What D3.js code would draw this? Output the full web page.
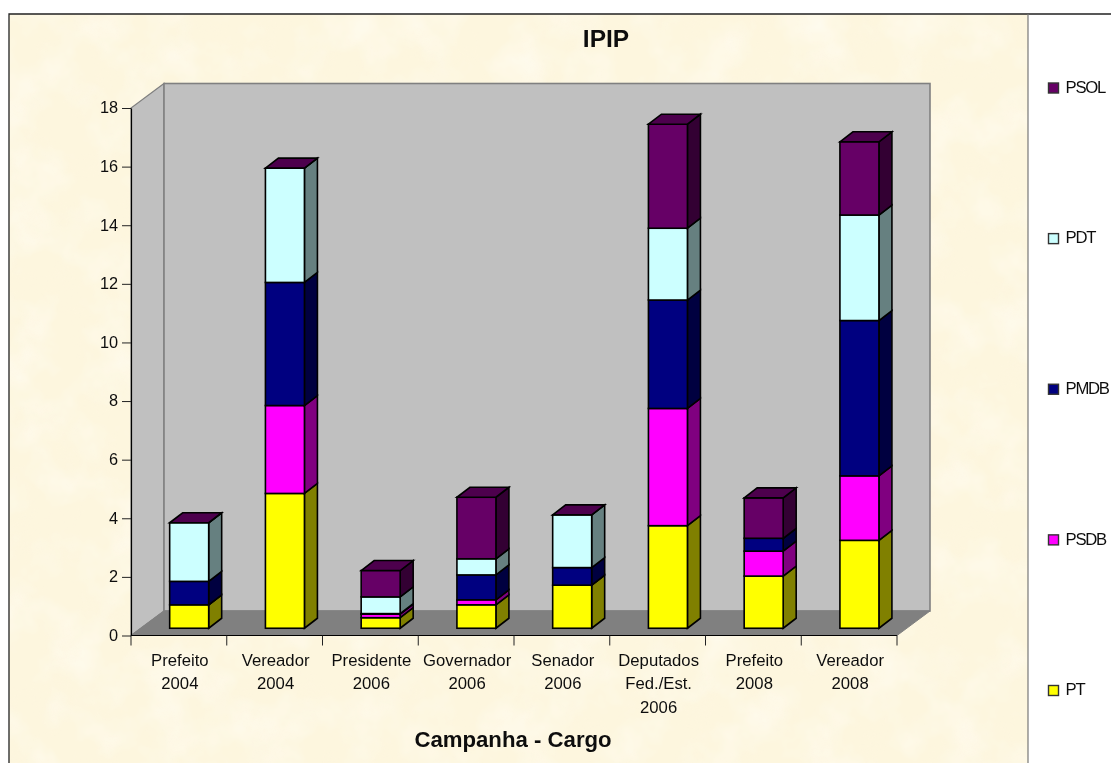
<!DOCTYPE html>
<html><head><meta charset="utf-8">
<script src="https://cdn.jsdelivr.net/npm/d3@7"></script>
<style>html,body{margin:0;padding:0;background:#fff}svg{display:block;font-family:"Liberation Sans",Arial,sans-serif;fill:#111}</style>
</head><body><div id="c"></div>
<script>
const categories = [["Prefeito","2004"],["Vereador","2004"],["Presidente","2006"],["Governador","2006"],["Senador","2006"],["Deputados","Fed./Est.","2006"],["Prefeito","2008"],["Vereador","2008"]];
const PT   = [0.8, 4.6, 0.36, 0.8, 1.47, 3.5, 1.78, 3.0];
const PSDB = [0, 3.0, 0.12, 0.17, 0, 4.0, 0.85, 2.2];
const PMDB = [0.8, 4.2, 0.02, 0.85, 0.6, 3.7, 0.44, 5.3];
const PDT  = [2.0, 3.9, 0.57, 0.55, 1.8, 2.45, 0, 3.6];
const PSOL = [0, 0, 0.9, 2.1, 0, 3.55, 1.38, 2.5];
const seriesNames = ["PT","PSDB","PMDB","PDT","PSOL"];
const seriesValues = [PT,PSDB,PMDB,PDT,PSOL];
const seriesColors = ["#ffff00","#ff00ff","#000080","#ccffff","#660066"];
const yTicks = [0,2,4,6,8,10,12,14,16,18];
const chartTitle = "IPIP", xTitle = "Campanha - Cargo";

const W=1111,H=763;
const svg=d3.select("#c").append("svg").attr("width",W).attr("height",H);
const defs=svg.append("defs");
const f=defs.append("filter").attr("id","paper").attr("x",0).attr("y",0).attr("width","100%").attr("height","100%");
f.append("feTurbulence").attr("type","fractalNoise").attr("baseFrequency","0.02").attr("numOctaves",4).attr("seed",7);
f.append("feColorMatrix").attr("type","matrix").attr("values","0 0 0 0 1  0 0 0 0 0.985  0 0 0 0 0.92  1.3 0 0 0 -0.55");
const f2=defs.append("filter").attr("id","spot").attr("x",0).attr("y",0).attr("width","100%").attr("height","100%");
f2.append("feTurbulence").attr("type","fractalNoise").attr("baseFrequency","0.025").attr("numOctaves",3).attr("seed",21);
f2.append("feColorMatrix").attr("type","matrix").attr("values","0 0 0 0 0.99  0 0 0 0 0.91  0 0 0 0 0.76  0 1.6 0 0 -0.7");
defs.append("filter").attr("id","soft").append("feGaussianBlur").attr("stdDeviation",0.35);

const px=9,py=14,pr=1028;
svg.append("rect").attr("x",px).attr("y",py).attr("width",pr-px).attr("height",H-py).attr("fill","#fdf6de");
svg.append("rect").attr("x",px).attr("y",py).attr("width",pr-px).attr("height",H-py).attr("filter","url(#paper)");
svg.append("rect").attr("x",px).attr("y",py).attr("width",pr-px).attr("height",H-py).attr("filter","url(#spot)").attr("opacity",.22);
svg.append("path").attr("d",`M${px},${H}V${py}H${W}`).attr("fill","none").attr("stroke","#222").attr("stroke-width",1.3);
svg.append("path").attr("d",`M${pr},${py}V${H}`).attr("fill","none").attr("stroke","#777").attr("stroke-width",1.2);

const y=d3.scaleLinear().domain([0,18]).range([635.5,108]);
const x=d3.scaleBand().domain(d3.range(categories.length)).range([131,897]);
const dx=33,dy=24.5;           // chart depth
const bw=39,bdx=13,bdy=10;     // bar width and depth
const ox=(dx-bdx)/2, oy=(dy-bdy)/2;
const [x0,x1]=x.range(),y0=y(0),y1=y(18);

const g=svg.append("g");
const wall="#c0c0c0",edge="#808080";
g.append("path").attr("d",`M${x0},${y0}L${x0+dx},${y0-dy}V${y1-dy}L${x0},${y1}Z`).attr("fill",wall).attr("stroke",edge).attr("stroke-width",1.2);
g.append("rect").attr("x",x0+dx).attr("y",y1-dy).attr("width",x1-x0).attr("height",y0-y1).attr("fill",wall).attr("stroke",edge).attr("stroke-width",1.6);
g.append("path").attr("d",`M${x0},${y0}L${x0+dx},${y0-dy}H${x1+dx}L${x1},${y0}Z`).attr("fill",edge).attr("stroke",edge);

const stack=d3.stack().keys(d3.range(5)).value((d,k)=>seriesValues[k][d])(d3.range(categories.length));
const bars=g.append("g").attr("stroke","#000").attr("stroke-width",1.6).attr("stroke-linejoin","miter");
stack.forEach((s,k)=>{
  const c=d3.color(seriesColors[k]);
  s.forEach((d,i)=>{
    const L=x(i)+x.bandwidth()/2-bw/2+ox+0.3, R=L+bw, B=y(d[0])-oy, T=y(d[1])-oy;
    bars.append("path").attr("fill",d3.rgb(c.r/2,c.g/2,c.b/2)).attr("d",`M${R},${B}L${R+bdx},${B-bdy}V${T-bdy}L${R},${T}Z`);
    bars.append("rect").attr("fill",c).attr("x",L).attr("y",T).attr("width",bw).attr("height",B-T);
    if(k===4) bars.append("path").attr("fill",d3.rgb(c.r*.75,c.g*.75,c.b*.75)).attr("d",`M${L},${T}L${L+bdx},${T-bdy}H${R+bdx}L${R},${T}Z`);
  });
});

// axes
const ya=svg.append("g").attr("transform",`translate(${x0},0)`).call(d3.axisLeft(y).tickValues(yTicks).tickSize(9).tickPadding(4).tickSizeOuter(0));
ya.select(".domain").attr("stroke","#000").attr("stroke-width",1.2);
ya.selectAll(".tick line").attr("stroke","#222");
ya.selectAll("text").attr("font-family","Liberation Sans").attr("font-size",16.3).attr("fill","#111").attr("dy","0.3em").attr("filter","url(#soft)");

const edges=d3.range(categories.length+1).map(i=>x0+i*x.step());
svg.append("line").attr("x1",x0).attr("x2",x1).attr("y1",y0).attr("y2",y0).attr("stroke","#000").attr("stroke-width",1.2);
svg.append("g").selectAll("line").data(edges).join("line").attr("x1",d=>d).attr("x2",d=>d).attr("y1",y0).attr("y2",y0+10).attr("stroke","#222");

const labs=svg.append("g").attr("font-size",16.7).attr("text-anchor","middle").attr("fill","#111").attr("filter","url(#soft)");
categories.forEach((ls,i)=>ls.forEach((t,j)=>labs.append("text").attr("x",x(i)+x.bandwidth()/2+1).attr("y",666+j*23.4).text(t)));

svg.append("text").attr("x",606).attr("y",47).attr("text-anchor","middle").attr("font-weight","bold").attr("font-size",24.5).attr("filter","url(#soft)").text(chartTitle);
svg.append("text").attr("x",513).attr("y",746.5).attr("text-anchor","middle").attr("font-weight","bold").attr("font-size",22.2).attr("filter","url(#soft)").text(xTitle);

// legend
const ly=d3.scalePoint().domain(seriesNames).range([690.5,88]);
const leg=svg.append("g").selectAll("g").data(seriesNames).join("g").attr("transform",d=>`translate(1048.5,${ly(d)})`);
leg.append("rect").attr("x",0).attr("y",-5).attr("width",10).attr("height",10).attr("fill",(d,i)=>seriesColors[i]).attr("stroke","#333").attr("stroke-width",1.4);
leg.append("text").attr("x",17).attr("y",4.8).attr("font-size",16.7).attr("letter-spacing","-1.25").attr("fill","#111").attr("filter","url(#soft)").text(d=>d);
</script></body></html>
